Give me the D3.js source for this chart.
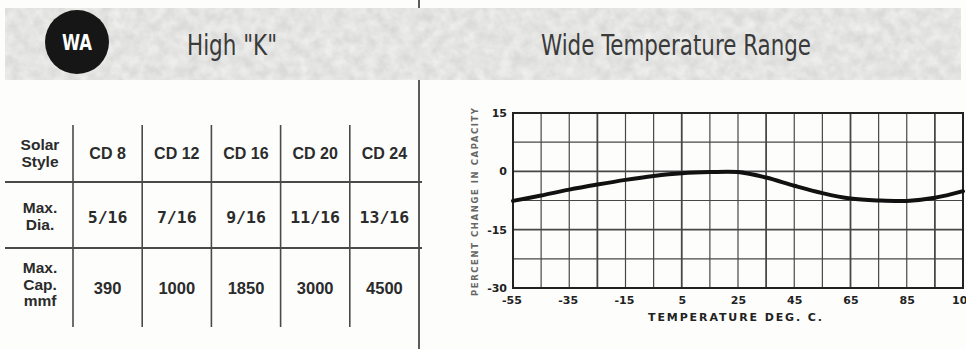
<!DOCTYPE html>
<html>
<head>
<meta charset="utf-8">
<script src="https://cdn.jsdelivr.net/npm/d3@7"></script>
<style>
  html, body { margin: 0; padding: 0; background: #fdfdfc; }
  svg { display: block; }
</style>
</head>
<body>
<svg id="sheet" width="966" height="349"></svg>
<script>
// ---- catalogue data ----
const seriesCode = "WA";
const seriesName = "High \"K\"";
const chartTitle = "Wide Temperature Range";

const styles = ["CD 8", "CD 12", "CD 16", "CD 20", "CD 24"];
const rowLabels = [["Solar", "Style"], ["Max.", "Dia."], ["Max.", "Cap.", "mmf"]];
const maxDia = ["5/16", "7/16", "9/16", "11/16", "13/16"];
const maxCap = [390, 1000, 1850, 3000, 4500];

// capacity change vs temperature
const temps = [-55, -45, -35, -25, -15, -5, 5, 15, 25, 35, 45, 55, 65, 75, 85, 95, 105];
const pctChange = [-7.6, -6.2, -4.7, -3.4, -2.2, -1.2, -0.5, -0.2, -0.2, -1.6, -3.7, -5.6, -7.0, -7.5, -7.6, -6.8, -5.1];
const xTicks = [-55, -35, -15, 5, 25, 45, 65, 85, 105];
const yTicks = [15, 0, -15, -30];
const xTitle = "TEMPERATURE DEG. C.";
const yTitle = "PERCENT CHANGE IN CAPACITY";

const svg = d3.select("#sheet");
const ink = "#2b2b2b";

// ---- paper grain for the heading band ----
const defs = svg.append("defs");
const grain = defs.append("filter").attr("id", "grain")
  .attr("x", 0).attr("y", 0).attr("width", "100%").attr("height", "100%");
grain.append("feTurbulence").attr("type", "fractalNoise")
  .attr("baseFrequency", "0.09").attr("numOctaves", 3).attr("seed", 7).attr("result", "n");
grain.append("feColorMatrix").attr("in", "n").attr("type", "matrix")
  .attr("values", "0.26 0 0 0 0.66  0.26 0 0 0 0.66  0.26 0 0 0 0.65  0 0 0 0 1");

// ---- divider between the table and the chart ----
svg.append("line")
  .attr("x1", 419).attr("x2", 419).attr("y1", 0).attr("y2", 349)
  .attr("stroke", "#333").attr("stroke-width", 1.6);

// ---- heading band ----
svg.append("rect").attr("x", 5).attr("y", 8).attr("width", 956).attr("height", 72)
  .attr("fill", "#c9c9c5");
svg.append("rect").attr("x", 5).attr("y", 8).attr("width", 956).attr("height", 72)
  .attr("filter", "url(#grain)").attr("opacity", 0.95);

const headFont = "'Liberation Sans Narrow', 'DejaVu Sans Condensed', 'Liberation Sans', sans-serif";
svg.append("circle").attr("cx", 77).attr("cy", 42).attr("r", 32).attr("fill", "#161616");
svg.append("text").attr("x", 62).attr("y", 50)
  .attr("font-family", headFont)
  .attr("font-weight", "bold").attr("font-size", 21).attr("fill", "#fff")
  .attr("textLength", 30).attr("lengthAdjust", "spacingAndGlyphs")
  .text(seriesCode);

svg.append("text").attr("x", 187).attr("y", 55)
  .attr("font-family", headFont)
  .attr("font-size", 28).attr("fill", "#3a3a3a")
  .attr("textLength", 90).attr("lengthAdjust", "spacingAndGlyphs")
  .text(seriesName);

svg.append("text").attr("x", 541).attr("y", 55)
  .attr("font-family", headFont)
  .attr("font-size", 28).attr("fill", "#3a3a3a")
  .attr("textLength", 270).attr("lengthAdjust", "spacingAndGlyphs")
  .text(chartTitle);

// ---- specification table ----
const col = d3.scaleBand().domain(styles).range([73, 419]);
const rowEdges = [125, 182, 248, 327];
const table = svg.append("g");

// horizontal rules
table.selectAll("line.h").data([rowEdges[1], rowEdges[2]]).join("line")
  .attr("x1", 5).attr("x2", 422).attr("y1", d => d).attr("y2", d => d)
  .attr("stroke", "#4a4a4a").attr("stroke-width", 2);
// vertical rules
table.selectAll("line.v").data(styles).join("line")
  .attr("x1", d => col(d)).attr("x2", d => col(d))
  .attr("y1", rowEdges[0]).attr("y2", rowEdges[3])
  .attr("stroke", "#4a4a4a").attr("stroke-width", 1.6);

const labelFont = "'Liberation Sans', Arial, sans-serif";
// row labels
const labelBase = [[150, 167], [213, 230], [273, 290, 306]];
rowLabels.forEach((lines, i) => {
  const t = table.append("text")
    .attr("text-anchor", "middle")
    .attr("font-family", labelFont).attr("font-weight", "bold")
    .attr("font-size", 15.5).attr("fill", ink);
  lines.forEach((s, j) => {
    t.append("tspan").attr("x", 40).attr("y", labelBase[i][j]).text(s);
  });
});

const cx = d => col(d) + col.bandwidth() / 2;
// style names
table.selectAll("text.style").data(styles).join("text")
  .attr("x", d => cx(d)).attr("y", 159)
  .attr("text-anchor", "middle")
  .attr("font-family", labelFont).attr("font-weight", "bold")
  .attr("font-size", 16).attr("fill", ink)
  .text(d => d);
// diameters
table.selectAll("text.dia").data(maxDia).join("text")
  .attr("x", (d, i) => cx(styles[i])).attr("y", 223)
  .attr("text-anchor", "middle")
  .attr("font-family", "'DejaVu Sans Mono', monospace").attr("font-weight", "bold")
  .attr("font-size", 16.5).attr("fill", ink)
  .text(d => d);
// capacities
table.selectAll("text.cap").data(maxCap).join("text")
  .attr("x", (d, i) => cx(styles[i])).attr("y", 294)
  .attr("text-anchor", "middle")
  .attr("font-family", labelFont).attr("font-weight", "bold")
  .attr("font-size", 16.5).attr("fill", ink)
  .text(d => d);

// ---- temperature characteristic chart ----
const x = d3.scaleLinear().domain([-55, 105]).range([513, 963]);
const y = d3.scaleLinear().domain([-30, 15]).range([288, 113]);
const chart = svg.append("g");
const gridInk = "#474747";

chart.selectAll("line.gx").data(d3.range(-55, 106, 10)).join("line")
  .attr("x1", d => x(d)).attr("x2", d => x(d))
  .attr("y1", y(15)).attr("y2", y(-30))
  .attr("stroke", gridInk).attr("stroke-width", d => (d - 5) % 30 === 0 ? 1.8 : 1.2);
chart.selectAll("line.gy").data(d3.range(-30, 15.1, 7.5)).join("line")
  .attr("x1", x(-55)).attr("x2", x(105))
  .attr("y1", d => y(d)).attr("y2", d => y(d))
  .attr("stroke", gridInk).attr("stroke-width", d => d % 15 === 0 ? 1.8 : 1.2);

// frame
chart.append("rect")
  .attr("x", x(-55)).attr("y", y(15))
  .attr("width", x(105) - x(-55)).attr("height", y(-30) - y(15))
  .attr("fill", "none").attr("stroke", "#222").attr("stroke-width", 2);

const tickFont = "'DejaVu Sans', sans-serif";
const yAxis = chart.append("g").attr("transform", `translate(${x(-55)},0)`)
  .call(d3.axisLeft(y).tickValues(yTicks).tickSize(0).tickPadding(6)
    .tickFormat(d => d < 0 ? "-" + Math.abs(d) : d));
yAxis.select(".domain").remove();
yAxis.selectAll("text")
  .attr("font-family", tickFont).attr("font-weight", "bold")
  .attr("font-size", 11).attr("fill", "#222");

const xAxis = chart.append("g").attr("transform", `translate(0,${y(-30)})`)
  .call(d3.axisBottom(x).tickValues(xTicks).tickSize(0).tickPadding(8)
    .tickFormat(d => d < 0 ? "-" + Math.abs(d) : d));
xAxis.select(".domain").remove();
xAxis.selectAll("text")
  .attr("font-family", tickFont).attr("font-weight", "bold")
  .attr("font-size", 11).attr("fill", "#222")
  .attr("dx", d => d < 0 ? "-0.15em" : 0);

chart.append("text")
  .attr("x", 735).attr("y", 321)
  .attr("text-anchor", "middle")
  .attr("font-family", tickFont).attr("font-weight", "bold")
  .attr("font-size", 11).attr("fill", "#222")
  .attr("textLength", 174).attr("lengthAdjust", "spacing")
  .text(xTitle);

chart.append("text")
  .attr("transform", "translate(478,202) rotate(-90)")
  .attr("text-anchor", "middle")
  .attr("font-family", tickFont).attr("font-weight", "bold")
  .attr("font-size", 8.5).attr("fill", "#666")
  .attr("textLength", 188).attr("lengthAdjust", "spacing")
  .text(yTitle);

// curve
const line = d3.line()
  .x((d, i) => x(temps[i]))
  .y(d => y(d))
  .curve(d3.curveCatmullRom.alpha(0.5));
chart.append("path").datum(pctChange)
  .attr("d", line)
  .attr("fill", "none").attr("stroke", "#111")
  .attr("stroke-width", 4).attr("stroke-linecap", "round");
</script>
</body>
</html>
